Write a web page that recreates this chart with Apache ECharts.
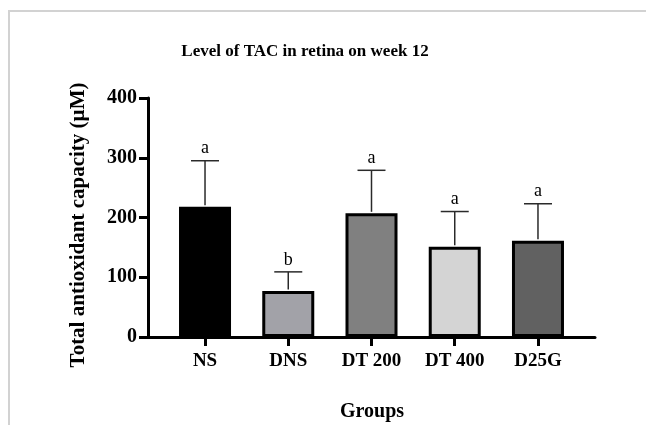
<!DOCTYPE html>
<html>
<head>
<meta charset="utf-8">
<script src="https://cdn.jsdelivr.net/npm/echarts@6/dist/echarts.min.js"></script>
<style>html,body{margin:0;padding:0;background:#fff}#c{width:646px;height:425px}</style>
</head>
<body>
<div id="c"></div>
<script>
var categories = ['NS', 'DNS', 'DT 200', 'DT 400', 'D25G'];
var means = [218, 77, 207, 151, 161];
var errors = [77, 32, 72, 59, 62];
var letters = ['a', 'b', 'a', 'a', 'a'];
var barColors = ['#000000', '#a2a2a8', '#808080', '#d4d4d4', '#616161'];
var yTicks = [0, 100, 200, 300, 400];

var FONT = '"Liberation Serif", "Times New Roman", serif';
var chart = echarts.init(document.getElementById('c'), null, {renderer: 'canvas'});

var errData = means.map(function (m, i) { return [i, m, m + errors[i], letters[i]]; });

var option = {
  backgroundColor: '#ffffff',
  animation: false,
  title: {
    text: 'Level of TAC in retina on week 12',
    left: 300, top: 38, textAlign: 'center',
    textStyle: {fontFamily: FONT, fontWeight: 'bold', fontSize: 17, color: '#000'}
  },
  graphic: [
    {type: 'line', shape: {x1: 9, y1: 11, x2: 646, y2: 11}, style: {stroke: '#d2d2d2', lineWidth: 2}},
    {type: 'line', shape: {x1: 9, y1: 10, x2: 9, y2: 425}, style: {stroke: '#d2d2d2', lineWidth: 2}},
    {type: 'text', style: {text: 'Groups', x: 372, y: 412, fontFamily: FONT, fontWeight: 'bold', fontSize: 20, fill: '#000', textAlign: 'center', textVerticalAlign: 'middle'}},
    {type: 'text', rotation: Math.PI / 2, x: 79, y: 225, style: {text: 'Total antioxidant capacity (µM)', fontFamily: FONT, fontWeight: 'bold', fontSize: 21, fill: '#000', textAlign: 'center', textVerticalAlign: 'middle'}}
  ],
  grid: [
    {left: 148, right: 51, top: 98, bottom: 88},
    {left: 163.4, right: 66.4, top: 98, bottom: 88}
  ],
  xAxis: [
    {gridIndex: 0, type: 'value', min: 0, max: 1, axisLine: {show: true, lineStyle: {color: '#000', width: 3}},
     axisTick: {show: false}, axisLabel: {show: false}, splitLine: {show: false}},
    {gridIndex: 1, type: 'category', data: categories,
     axisLine: {show: false},
     axisTick: {show: true, alignWithLabel: true, length: 9, lineStyle: {color: '#000', width: 3}},
     axisLabel: {margin: 15, fontFamily: FONT, fontWeight: 'bold', fontSize: 19, color: '#000'},
     splitLine: {show: false}}
  ],
  yAxis: [
    {gridIndex: 0, type: 'value', min: 0, max: 400, interval: 100,
     axisLine: {show: true, lineStyle: {color: '#000', width: 3}},
     axisTick: {show: true, length: 9, lineStyle: {color: '#000', width: 3}},
     axisLabel: {margin: 11, fontFamily: FONT, fontWeight: 'bold', fontSize: 20, color: '#000',
       formatter: function (v) { return yTicks.indexOf(v) >= 0 ? String(v) : ''; }},
     splitLine: {show: false}},
    {gridIndex: 1, type: 'value', min: 0, max: 400, interval: 100, show: false}
  ],
  series: [
    {
      type: 'bar', xAxisIndex: 1, yAxisIndex: 1, barWidth: 52,
      data: means.map(function (m, i) {
        return {value: m, itemStyle: {color: barColors[i], borderColor: '#000', borderWidth: 3}};
      }),
      z: 2
    },
    {
      type: 'custom', xAxisIndex: 1, yAxisIndex: 1, z: 3,
      data: errData,
      renderItem: function (params, api) {
        var base = api.coord([api.value(0), api.value(1)]);
        var top = api.coord([api.value(0), api.value(2)]);
        var half = 14;
        return {
          type: 'group',
          children: [
            {type: 'line', shape: {x1: base[0], y1: base[1] - 1.5, x2: top[0], y2: top[1]}, style: {stroke: '#2a2a2a', lineWidth: 1.5}},
            {type: 'line', shape: {x1: top[0] - half, y1: top[1], x2: top[0] + half, y2: top[1]}, style: {stroke: '#2a2a2a', lineWidth: 1.5}},
            {type: 'text', style: {text: letters[params.dataIndex], x: top[0], y: top[1] - 12, fontFamily: FONT, fontSize: 18, fill: '#000', textAlign: 'center', textVerticalAlign: 'middle'}}
          ]
        };
      }
    }
  ]
};
chart.setOption(option);
</script>
</body>
</html>
